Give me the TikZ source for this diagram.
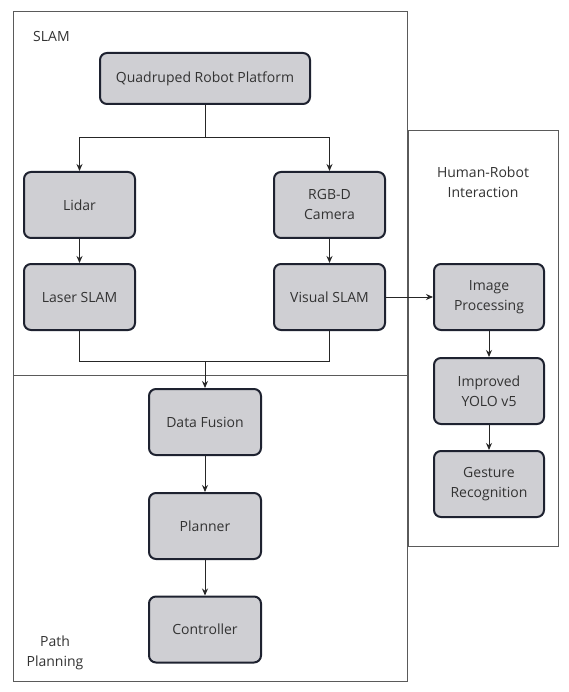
\documentclass[tikz,border=0pt]{standalone}
\usepackage{fontspec}
\setmainfont{Open Sans}
\usetikzlibrary{arrows.meta}
\definecolor{boxfill}{HTML}{CFCFD3}
\definecolor{boxline}{HTML}{1E2230}
\definecolor{frame}{HTML}{5A5A5A}
\definecolor{txt}{HTML}{333333}
\tikzset{
  blk/.style={draw=boxline, line width=2pt, fill=boxfill, rounded corners=7pt,
    minimum width=111pt, minimum height=66pt, align=center, text=txt,
    font=\fontsize{14}{20}\selectfont, inner sep=2pt},
  region/.style={draw=frame, line width=0.9pt},
  lbl/.style={text=txt, font=\fontsize{14}{20}\selectfont, align=center, inner sep=0pt},
  conn/.style={draw=black!85, line width=1pt},
  arr/.style={conn, -{Stealth[length=7pt,width=6pt]}},
}
\begin{document}
\begin{tikzpicture}[x=1pt,y=-1pt]
\useasboundingbox[fill=white] (0,0) rectangle (568,692);
% regions
\draw[region] (13,11) rectangle (407,375);
\draw[region] (13,375) rectangle (407,681);
\draw[region] (408,130) rectangle (558,546);
\node[lbl, anchor=west] (slamlbl) at (33,37) {SLAM};
\node[lbl] (hrilbl) at (483,182) {Human-Robot\\Interaction};
\node[lbl] (pplbl) at (55,653) {Path\\Planning};
% blocks
\node[blk, minimum width=210pt, minimum height=51pt] (qrp) at (205,78.5) {Quadruped Robot Platform};
\node[blk] (lidar) at (79.5,205) {Lidar};
\node[blk] (laser) at (79.5,297) {Laser SLAM};
\node[blk] (rgbd) at (329.5,205) {RGB-D\\Camera};
\node[blk] (visual) at (329.5,297) {Visual SLAM};
\node[blk, minimum width=112pt] (df) at (205,422) {Data Fusion};
\node[blk, minimum width=112pt] (planner) at (205,526) {Planner};
\node[blk, minimum width=112pt] (ctrl) at (205,629.5) {Controller};
\node[blk, minimum width=110pt] (imgp) at (489,297) {Image\\Processing};
\node[blk, minimum width=110pt] (yolo) at (489,391) {Improved\\YOLO v5};
\node[blk, minimum width=110pt] (gest) at (489,484) {Gesture\\Recognition};
% connectors
\coordinate (br) at (205,138);
\coordinate (mg) at (205,361);
\draw[conn] (qrp.south) -- (br);
\draw[arr] (br) -| (lidar.north);
\draw[arr] (br) -| (rgbd.north);
\draw[arr] (lidar) -- (laser);
\draw[arr] (rgbd) -- (visual);
\draw[conn] (laser.south) |- (mg);
\draw[conn] (visual.south) |- (mg);
\draw[arr] (mg) -- (df.north);
\draw[arr] (df) -- (planner);
\draw[arr] (planner) -- (ctrl);
\draw[arr] (visual.east) -- (imgp.west);
\draw[arr] (imgp) -- (yolo);
\draw[arr] (yolo) -- (gest);
\end{tikzpicture}
\end{document}
